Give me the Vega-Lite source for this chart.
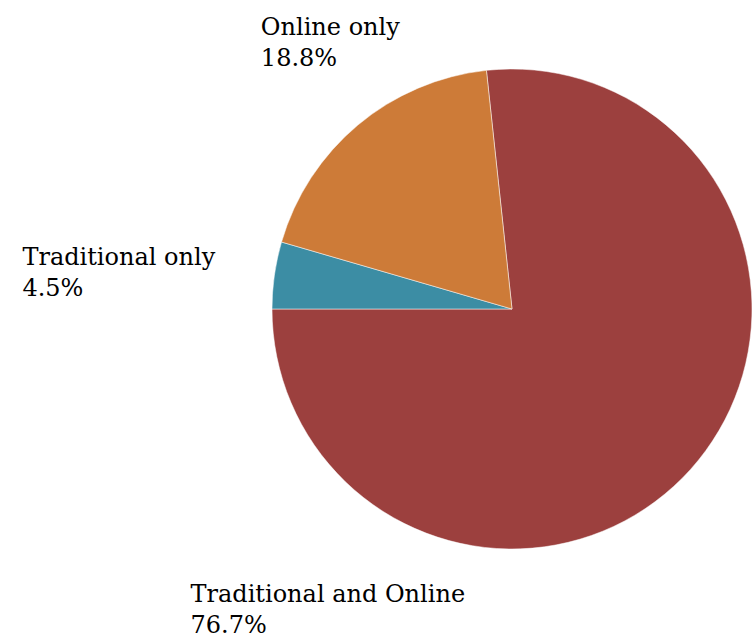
{
  "$schema": "https://vega.github.io/schema/vega-lite/v6.json",
  "width": 480,
  "height": 480,
  "autosize": "none",
  "padding": {"left": 272, "top": 69, "right": 3, "bottom": 90},
  "background": "white",
  "config": {"view": {"stroke": null}},
  "data": {
    "values": [
      {"category": "Traditional and Online", "value": 76.7, "ord": 1},
      {"category": "Traditional only", "value": 4.5, "ord": 2},
      {"category": "Online only", "value": 18.8, "ord": 3}
    ]
  },
  "transform": [
    {"calculate": "datum.category + '\\n' + format(datum.value, '.1f') + '%'", "as": "label"}
  ],
  "encoding": {
    "theta": {"field": "value", "type": "quantitative", "stack": true, "scale": {"range": [-0.10681, 6.17638]}},
    "order": {"field": "ord", "type": "quantitative"}
  },
  "layer": [
    {
      "mark": {"type": "arc", "stroke": "white", "strokeWidth": 0.5},
      "encoding": {
        "color": {
          "field": "category",
          "type": "nominal",
          "scale": {"domain": ["Traditional and Online", "Traditional only", "Online only"], "range": ["#9C403E", "#3C8DA4", "#CD7B38"]},
          "legend": null
        }
      }
    },
    {
      "mark": {"type": "text", "font": "DejaVu Serif", "fontSize": 24, "lineBreak": "\n", "lineHeight": 31, "align": "left", "baseline": "alphabetic", "color": "black", "dx": -97, "dy": -90},
      "encoding": {
        "radius": {"value": 240},
        "text": {"condition": {"test": "datum.category === 'Online only'", "field": "label"}, "value": ""}
      }
    },
    {
      "mark": {"type": "text", "font": "DejaVu Serif", "fontSize": 24, "lineBreak": "\n", "lineHeight": 31, "align": "left", "baseline": "alphabetic", "color": "black", "dx": -252, "dy": -10},
      "encoding": {
        "radius": {"value": 240},
        "text": {"condition": {"test": "datum.category === 'Traditional only'", "field": "label"}, "value": ""}
      }
    },
    {
      "mark": {"type": "text", "font": "DejaVu Serif", "fontSize": 24, "lineBreak": "\n", "lineHeight": 31, "align": "left", "baseline": "alphabetic", "color": "black", "dx": -500, "dy": 133},
      "encoding": {
        "radius": {"value": 240},
        "text": {"condition": {"test": "datum.category === 'Traditional and Online'", "field": "label"}, "value": ""}
      }
    }
  ]
}
